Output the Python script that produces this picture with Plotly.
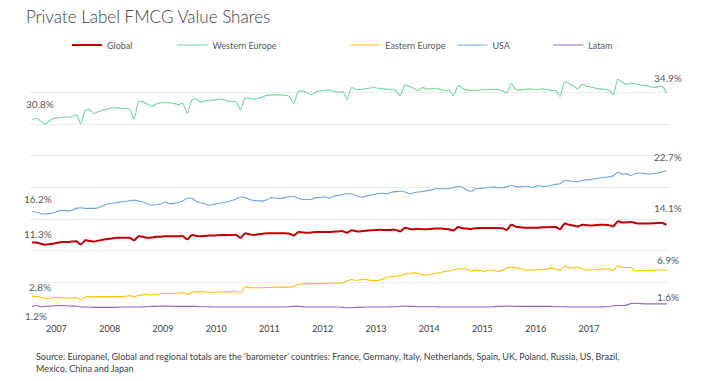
import plotly.graph_objects as go

# ---------------- data ----------------
months = [f"{y}-{m:02d}-15" for y in range(2007, 2019) for m in range(1, 13)]
year_labels = ["2007", "2008", "2009", "2010", "2011", "2012",
               "2013", "2014", "2015", "2016", "2017"]
year_tick_dates = [f"{y}-07-01" for y in year_labels]

western_europe = [
    30.8, 30.9, 30.5, 30.0, 30.6, 30.9, 31.0, 31.1, 31.15, 31.2, 31.5, 30.1,
    32.2, 32.3, 31.7, 32.0, 32.2, 32.4, 32.6, 32.6, 32.5, 32.5, 32.4, 30.8,
    33.6, 33.5, 33.2, 32.8, 33.2, 33.4, 33.4, 33.4, 33.3, 33.1, 33.3, 31.7,
    33.8, 34.0, 33.5, 33.7, 33.8, 33.8, 34.0, 33.9, 33.7, 33.6, 33.5, 32.3,
    34.1, 34.1, 33.95, 34.1, 34.3, 34.6, 34.65, 34.65, 34.65, 34.6, 34.4, 33.3,
    35.2, 35.25, 35.0, 34.65, 35.1, 35.3, 35.35, 35.4, 35.2, 35.0, 35.2, 33.95,
    35.8, 35.5, 35.5, 35.6, 35.7, 35.8, 35.7, 35.6, 35.55, 35.5, 35.3, 34.5,
    36.2, 36.0, 35.7, 35.3, 35.8, 35.6, 35.6, 35.7, 35.5, 35.3, 35.4, 34.5,
    36.1, 35.7, 35.4, 35.35, 35.35, 35.4, 35.5, 35.5, 35.5, 35.5, 35.3, 34.9,
    36.4, 35.5, 35.4, 35.5, 35.6, 35.5, 35.5, 35.6, 35.5, 35.35, 35.3, 34.4,
    36.7, 36.4, 36.1, 35.6, 36.3, 36.0, 35.9, 35.7, 35.6, 35.5, 35.4, 34.6,
    37.1, 36.6, 36.3, 36.5, 36.4, 36.2, 36.1, 36.0, 35.8, 35.9, 36.0, 34.9,
]

usa = [
    16.2, 16.1, 15.9, 15.8, 15.9, 16.0, 16.3, 16.4, 16.3, 16.4, 16.7, 16.8,
    16.7, 16.7, 16.7, 16.8, 17.1, 17.4, 17.5, 17.6, 17.7, 17.8, 17.9, 18.0,
    17.85, 17.7, 17.4, 17.2, 17.3, 17.4, 17.7, 17.45, 17.5, 17.6, 17.9, 18.3,
    18.3, 17.8, 17.6, 17.4, 17.2, 17.3, 17.5, 17.6, 17.75, 17.95, 18.2, 18.5,
    18.4, 18.1, 17.95, 17.9, 17.85, 18.1, 18.4, 18.3, 18.25, 18.4, 18.55, 18.6,
    18.3, 18.1, 18.1, 18.15, 18.4, 18.45, 18.5, 18.3, 18.6, 18.75, 18.9, 19.0,
    19.0, 18.7, 18.5, 18.6, 18.75, 18.9, 19.05, 19.1, 19.0, 19.25, 19.35, 19.4,
    19.3, 19.0, 19.15, 19.3, 19.35, 19.5, 19.6, 19.8, 19.8, 19.8, 19.85, 20.0,
    20.2, 20.0, 19.6, 19.4, 19.8, 19.85, 19.9, 20.0, 20.1, 19.95, 19.95, 20.1,
    20.35, 20.15, 20.1, 20.2, 20.15, 20.0, 20.3, 20.2, 20.2, 20.35, 20.5, 20.6,
    21.1, 21.05, 20.95, 20.9, 21.1, 21.2, 21.25, 21.4, 21.5, 21.6, 21.7, 21.85,
    22.4, 22.1, 22.2, 21.9, 22.2, 22.3, 22.2, 22.1, 22.2, 22.3, 22.45, 22.7,
]

global_total = [
    11.3, 11.3, 11.1, 10.95, 11.05, 11.15, 11.3, 11.4, 11.4, 11.45, 11.5, 11.0,
    11.65, 11.55, 11.45, 11.6, 11.75, 11.85, 11.95, 12.05, 12.05, 12.05, 12.05, 11.65,
    12.3, 12.2, 12.05, 12.1, 12.2, 12.2, 12.3, 12.3, 12.3, 12.3, 12.3, 11.8,
    12.5, 12.35, 12.3, 12.35, 12.4, 12.4, 12.45, 12.5, 12.5, 12.5, 12.5, 12.05,
    12.75, 12.6, 12.5, 12.6, 12.7, 12.75, 12.75, 12.75, 12.75, 12.75, 12.7, 12.4,
    12.95, 12.9, 12.85, 12.9, 12.95, 12.95, 12.95, 12.95, 13.0, 13.05, 13.1, 12.85,
    13.25, 13.1, 13.05, 13.15, 13.2, 13.25, 13.3, 13.3, 13.3, 13.3, 13.3, 13.05,
    13.65, 13.45, 13.4, 13.45, 13.4, 13.4, 13.45, 13.5, 13.5, 13.45, 13.4, 13.2,
    13.75, 13.55, 13.5, 13.45, 13.55, 13.6, 13.6, 13.6, 13.6, 13.6, 13.55, 13.3,
    14.1, 13.8, 13.7, 13.65, 13.65, 13.65, 13.65, 13.7, 13.7, 13.75, 13.75, 13.4,
    14.3, 14.1, 14.0, 13.85, 14.1, 14.05, 14.0, 14.05, 14.1, 14.1, 14.05, 13.85,
    14.65, 14.45, 14.5, 14.55, 14.4, 14.3, 14.3, 14.3, 14.35, 14.4, 14.4, 14.1,
]

eastern_europe = [
    2.8, 2.75, 2.65, 2.5, 2.5, 2.6, 2.6, 2.55, 2.5, 2.55, 2.6, 2.3,
    2.7, 2.7, 2.75, 2.75, 2.75, 2.75, 2.75, 2.75, 2.75, 2.8, 2.9, 2.7,
    2.95, 3.0, 3.1, 3.0, 3.1, 3.2, 3.2, 3.2, 3.25, 3.3, 3.35, 3.1,
    3.45, 3.5, 3.55, 3.5, 3.45, 3.45, 3.45, 3.5, 3.5, 3.55, 3.6, 3.35,
    4.3, 4.15, 4.15, 4.15, 4.15, 4.2, 4.2, 4.25, 4.25, 4.25, 4.25, 4.3,
    4.7, 4.75, 4.8, 4.8, 4.8, 4.8, 4.8, 4.85, 4.85, 4.9, 4.95, 5.2,
    5.45, 5.3, 5.4, 5.5, 5.35, 5.3, 5.3, 5.5, 5.85, 5.9, 6.0, 6.1,
    6.3, 6.45, 6.5, 6.45, 6.2, 6.15, 6.3, 6.45, 6.55, 6.75, 6.8, 6.95,
    7.15, 7.15, 7.1, 6.8, 6.9, 6.85, 6.75, 6.95, 6.9, 6.75, 6.9, 7.25,
    7.4, 7.3, 7.2, 7.0, 6.95, 6.95, 7.0, 7.0, 7.1, 7.25, 7.1, 6.9,
    7.55, 7.3, 7.3, 7.4, 7.1, 6.95, 7.0, 7.0, 7.05, 7.15, 7.1, 6.9,
    7.6, 7.35, 7.35, 7.35, 6.85, 6.85, 6.85, 6.9, 6.9, 6.95, 7.0, 6.9,
]

latam = [
    1.2, 1.35, 1.15, 1.2, 1.25, 1.3, 1.35, 1.3, 1.3, 1.25, 1.25, 1.1,
    1.1, 1.1, 1.05, 1.05, 1.05, 1.05, 1.05, 1.05, 1.1, 1.1, 1.1, 1.1,
    1.1, 1.15, 1.15, 1.2, 1.2, 1.25, 1.25, 1.25, 1.2, 1.2, 1.2, 1.2,
    1.2, 1.2, 1.15, 1.15, 1.15, 1.1, 1.1, 1.1, 1.1, 1.1, 1.1, 1.1,
    1.1, 1.1, 1.1, 1.1, 1.1, 1.1, 1.1, 1.1, 1.1, 1.1, 1.15, 1.2,
    1.2, 1.15, 1.1, 1.1, 1.1, 1.1, 1.1, 1.1, 1.1, 1.1, 1.05, 1.0,
    1.0, 1.05, 1.05, 1.1, 1.1, 1.1, 1.1, 1.1, 1.1, 1.15, 1.15, 1.2,
    1.25, 1.2, 1.2, 1.15, 1.15, 1.15, 1.15, 1.15, 1.1, 1.1, 1.1, 1.1,
    1.1, 1.1, 1.1, 1.1, 1.1, 1.1, 1.1, 1.1, 1.15, 1.2, 1.2, 1.25,
    1.25, 1.2, 1.2, 1.2, 1.2, 1.2, 1.2, 1.2, 1.2, 1.2, 1.15, 1.15,
    1.15, 1.1, 1.1, 1.1, 1.1, 1.1, 1.1, 1.1, 1.1, 1.15, 1.15, 1.3,
    1.35, 1.35, 1.4, 1.65, 1.7, 1.65, 1.6, 1.6, 1.6, 1.6, 1.6, 1.6,
]

series_names = ["Global", "Western Europe", "Eastern Europe", "USA", "Latam"]
series_values = [global_total, western_europe, eastern_europe, usa, latam]

# ---------------- styling ----------------
FONT = "Lato, 'Open Sans', sans-serif"
colors = ["#c00000", "#72d69e", "#ffc000", "#6fa5dc", "#9a62c4"]
widths = [2.0, 1.1, 1.1, 1.1, 1.1]
legend_ids = ["legend", "legend2", "legend3", "legend4", "legend5"]
legend_x = [0.058, 0.223, 0.4935, 0.661, 0.811]
start_up = [9, 15, 9, 13, -10]    # pixels above (+) / below (-) the first point
start_dx = [6, 8, 8, 6, 4]
end_up = [17, 15, 10, 13, 7]      # pixels above the last point

fig = go.Figure()
for name, vals, col, w, lg in zip(series_names, series_values, colors, widths, legend_ids):
    fig.add_trace(go.Scatter(
        x=months, y=vals, name=name, mode="lines",
        line=dict(color=col, width=w, shape="spline", smoothing=0.6),
        legend=lg,
    ))

annotations = []
for vals, s0, dx, s1 in zip(series_values, start_up, start_dx, end_up):
    annotations.append(dict(
        x=months[0], y=vals[0], xref="x", yref="y", text=f"{vals[0]:.1f}%",
        showarrow=False, xshift=dx, yshift=s0,
        font=dict(family=FONT, size=10, color="#595959"),
    ))
    annotations.append(dict(
        x=months[-1], y=vals[-1], xref="x", yref="y", text=f"{vals[-1]:.1f}%",
        showarrow=False, xshift=1, yshift=s1,
        font=dict(family=FONT, size=10, color="#595959"),
    ))

annotations.append(dict(
    x=0.0, y=-0.14, xref="paper", yref="paper", xanchor="left", yanchor="top",
    xshift=4, align="left", showarrow=False,
    text=("Source: Europanel, Global and regional totals are the \u2018barometer\u2019 countries: "
          "France, Germany, Italy, Netherlands, Spain, UK, Poland, Russia, US, Brazil,"
          "<br>Mexico, China and Japan"),
    font=dict(family=FONT, size=9, color="#404040"),
))

layout_legends = {}
for lg, lx in zip(legend_ids, legend_x):
    layout_legends[lg] = dict(
        x=lx, y=1.063, xanchor="left", yanchor="middle", orientation="h",
        font=dict(family=FONT, size=9, color="#595959"),
        bgcolor="rgba(0,0,0,0)", borderwidth=0, itemwidth=30,
    )

fig.update_layout(
    width=701, height=381,
    margin=dict(l=30, r=32, t=61, b=67),
    paper_bgcolor="white", plot_bgcolor="white",
    title=dict(text="Private Label FMCG Value Shares", x=0.037, xref="container",
               xanchor="left", y=0.955, yref="container", yanchor="middle",
               font=dict(family=FONT, size=17, color="#404040", weight=300)),
    xaxis=dict(type="date", range=["2007-01-01", "2019-01-01"],
               tickmode="array", tickvals=year_tick_dates, ticktext=year_labels,
               showgrid=False, zeroline=False, showline=False, ticks="",
               ticklabelstandoff=8,
               tickfont=dict(family=FONT, size=9, color="#404040")),
    yaxis=dict(range=[0, 40], dtick=5, showticklabels=False,
               gridcolor="#ececec", gridwidth=1, zeroline=False, showline=False),
    annotations=annotations,
    showlegend=True,
    **layout_legends,
)

fig.write_html("out.html",
               config={"displayModeBar": False},
               post_script="document.body.style.margin='0px';")
